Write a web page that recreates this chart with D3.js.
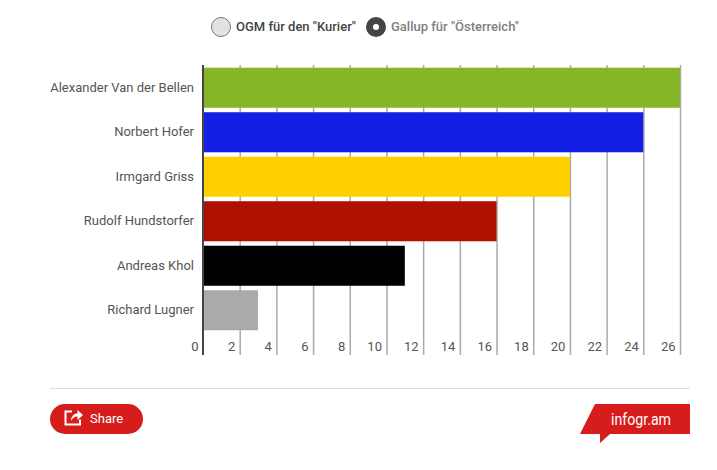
<!DOCTYPE html>
<html>
<head>
<meta charset="utf-8">
<script src="https://cdnjs.cloudflare.com/ajax/libs/d3/7.8.5/d3.min.js"></script>
<style>
html,body{margin:0;padding:0;background:#fff;}
svg{display:block;font-family:Roboto,sans-serif;}
.grid,.cat{font-family:Roboto,sans-serif;}
.grid line{stroke:#aaa;stroke-width:1.5px;}
.grid path{display:none;}
.grid text{font-size:13px;fill:#555;text-anchor:end;}
.cat text{font-size:13px;fill:#555;text-anchor:end;}
</style>
</head>
<body>
<div id="chart"></div>
<script>
var candidates = ['Alexander Van der Bellen','Norbert Hofer','Irmgard Griss','Rudolf Hundstorfer','Andreas Khol','Richard Lugner'];
var gallup = [26,24,20,16,11,3];
var barColors = ['#85b628','#141fe6','#ffd000','#ae1100','#000000','#aaaaaa'];
var xTicks = [0,2,4,6,8,10,12,14,16,18,20,22,24,26];
var legendNames = ['OGM für den "Kurier"','Gallup für "Österreich"'];

var width = 717, height = 470;
var plot = {t:65,r:37,b:115,l:203};

var svg = d3.select('#chart').append('svg')
    .attr('width',width)
    .attr('height',height);

var x = d3.scaleLinear().domain([0,26]).range([plot.l,width-plot.r]);
var y = d3.scaleBand().domain(candidates).range([plot.t+0.5,plot.t+267.5]).paddingInner(0.1).paddingOuter(0.05);

// gridlines + value labels
var xAxis = d3.axisBottom(x)
    .tickValues(xTicks)
    .tickSize(-290)
    .tickPadding(0);

var grid = svg.append('g')
    .attr('class','grid')
    .attr('transform','translate(0,'+(height-plot.b)+')')
    .call(xAxis);
grid.selectAll('text')
    .attr('x',-5)
    .attr('y',-8)
    .attr('dy','0.32em');
grid.selectAll('.tick').filter(function(d){return d===0;}).select('line').style('display','none');

// bars
svg.selectAll('rect.bar')
    .data(gallup)
    .enter()
    .append('rect')
    .attr('class','bar')
    .attr('x',x(0))
    .attr('y',function(d,i){return y(candidates[i]);})
    .attr('width',function(d){return x(d)-x(0);})
    .attr('height',y.bandwidth())
    .style('fill',function(d,i){return barColors[i];});

// axis line on the left
svg.append('line')
    .attr('x1',x(0))
    .attr('x2',x(0))
    .attr('y1',plot.t)
    .attr('y2',height-plot.b)
    .style('stroke','#444')
    .style('stroke-width','2px');

// category labels
var cat = svg.append('g')
    .attr('class','cat')
    .attr('transform','translate('+(plot.l-9)+',0)')
    .call(d3.axisLeft(y).tickSize(0).tickPadding(0));
cat.select('path').remove();

// legend, second option is the selected one
var legend = svg.append('g');
legend.append('circle')
    .attr('cx',221).attr('cy',27).attr('r',9.5)
    .style('fill','#e2e2e2').style('stroke','#777').style('stroke-width','1px');
legend.append('text')
    .attr('x',236).attr('y',31)
    .style('font-size','13px').style('font-weight','500').style('fill','#444')
    .text(legendNames[0]);
legend.append('circle')
    .attr('cx',376).attr('cy',27).attr('r',10)
    .style('fill','#444');
legend.append('circle')
    .attr('cx',376).attr('cy',27).attr('r',3)
    .style('fill','#fff');
legend.append('text')
    .attr('x',391).attr('y',31)
    .style('font-size','13px').style('font-weight','500').style('fill','#808080')
    .text(legendNames[1]);

// footer
svg.append('line')
    .attr('x1',50).attr('x2',690)
    .attr('y1',388.5).attr('y2',388.5)
    .style('stroke','#ddd');

svg.append('rect')
    .attr('x',50).attr('y',404)
    .attr('width',93).attr('height',30)
    .attr('rx',15)
    .style('fill','#d71c1c');
// share icon
svg.append('path')
    .attr('d','M72 411.5h-6.5v13h14.5v-5')
    .style('fill','none').style('stroke','#fff').style('stroke-width','2px');
svg.append('path')
    .attr('d','M71 421c0-5 3-7.5 6.5-7.5v-3.5l5.5 5-5.5 5v-3.5c-3 0-5 1.500-6.500 4.500z')
    .style('fill','#fff');
svg.append('text')
    .attr('x',90).attr('y',423)
    .style('font-size','13px').style('font-weight','400').style('fill','#fff')
    .text('Share');

svg.append('path')
    .attr('d','M595 404H690V434H610L600 443V434H580Z')
    .style('fill','#d71c1c');
svg.append('text')
    .attr('x',611).attr('y',425)
    .attr('textLength',60)
    .attr('lengthAdjust','spacingAndGlyphs')
    .style('font-size','16px').style('fill','#fff')
    .text('infogr.am');
</script>
</body>
</html>
